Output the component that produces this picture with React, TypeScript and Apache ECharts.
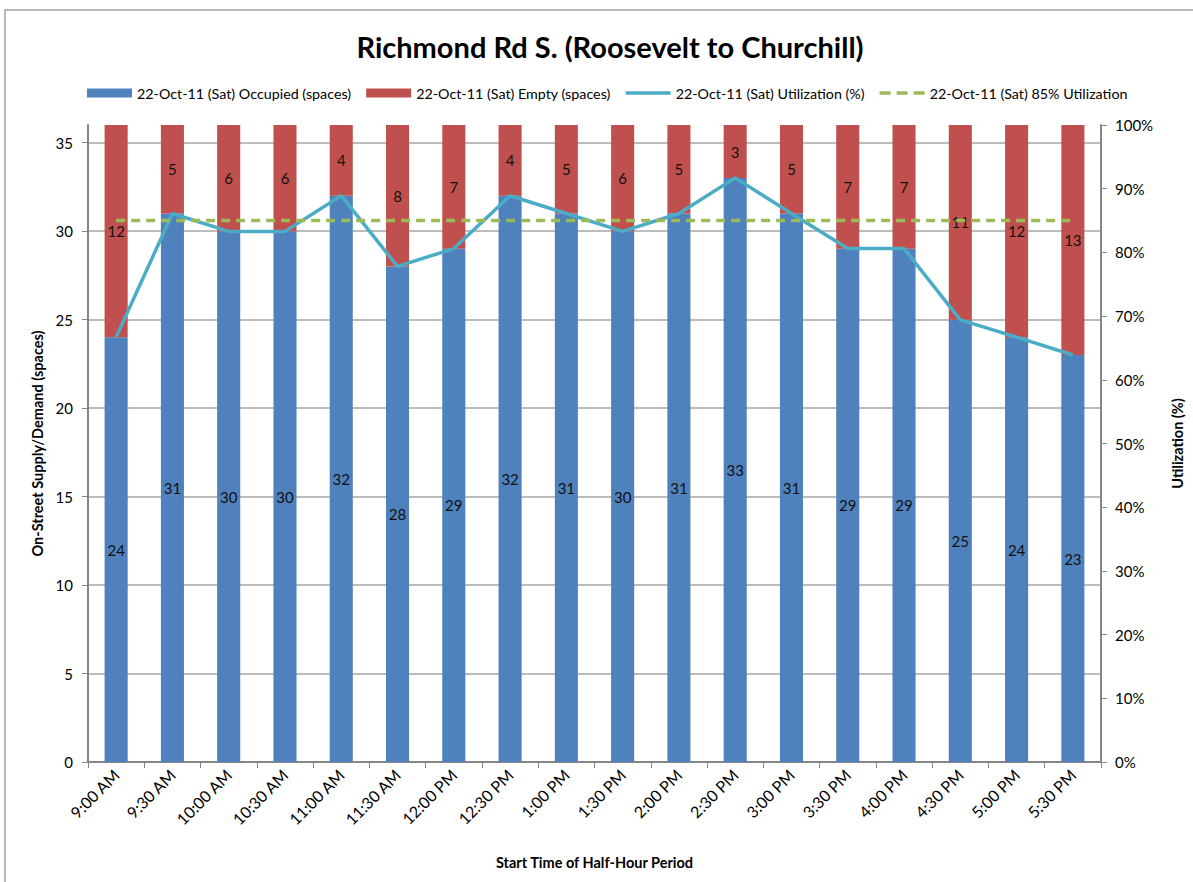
import React, { useEffect, useRef } from "react";
import * as echarts from "echarts";

const categories = [
  "9:00 AM", "9:30 AM", "10:00 AM", "10:30 AM", "11:00 AM", "11:30 AM",
  "12:00 PM", "12:30 PM", "1:00 PM", "1:30 PM", "2:00 PM", "2:30 PM",
  "3:00 PM", "3:30 PM", "4:00 PM", "4:30 PM", "5:00 PM", "5:30 PM",
];
const occupied = [24, 31, 30, 30, 32, 28, 29, 32, 31, 30, 31, 33, 31, 29, 29, 25, 24, 23];
const empty = [12, 5, 6, 6, 4, 8, 7, 4, 5, 6, 5, 3, 5, 7, 7, 11, 12, 13];
const utilization = [0.667, 0.861, 0.833, 0.833, 0.889, 0.778, 0.806, 0.889, 0.861, 0.833, 0.861, 0.917, 0.861, 0.806, 0.806, 0.694, 0.667, 0.639];
const target85 = [0.85, 0.85, 0.85, 0.85, 0.85, 0.85, 0.85, 0.85, 0.85, 0.85, 0.85, 0.85, 0.85, 0.85, 0.85, 0.85, 0.85, 0.85];
const leftTicks = [0, 5, 10, 15, 20, 25, 30, 35];

const seriesNames = [
  "22-Oct-11 (Sat) Occupied (spaces)",
  "22-Oct-11 (Sat) Empty (spaces)",
  "22-Oct-11 (Sat) Utilization (%)",
  "22-Oct-11 (Sat) 85% Utilization",
];

const FONT = "Lato, 'Open Sans', sans-serif";
const SOLID_ICON = "path://M0,0h45v3.5h-45z";
const DASH_ICON = "path://M0,0h11v3.5h-11z M17,0h11v3.5h-11z M34,0h11v3.5h-11z";

export default function App() {
  const ref = useRef<HTMLDivElement>(null);
  useEffect(() => {
    document.body.style.margin = "0";
    const chart = echarts.init(ref.current!, null, { renderer: "svg" });
    const gridColors = leftTicks.map(() => "#a6a6a6").concat(["rgba(0,0,0,0)"]);
    chart.setOption({
      animation: false,
      backgroundColor: "#ffffff",
      textStyle: { fontFamily: FONT },
      graphic: [
        {
          type: "rect",
          shape: { x: 5, y: 10, width: 1300, height: 1000 },
          style: { fill: "none", stroke: "#a0a0a0", lineWidth: 1.5 },
          silent: true,
        },
      ],
      title: {
        text: "Richmond Rd S. (Roosevelt to Churchill)",
        left: 605,
        textAlign: "center",
        top: 27,
        textStyle: { fontFamily: FONT, fontSize: 29, fontWeight: "bold", color: "#000" },
      },
      legend: {
        left: 82,
        top: 81,
        itemWidth: 45,
        itemHeight: 9,
        itemGap: 15,
        textStyle: { fontFamily: FONT, fontSize: 14.3, color: "#000" },
        data: [
          { name: seriesNames[0], icon: "rect" },
          { name: seriesNames[1], icon: "rect" },
          { name: seriesNames[2], icon: SOLID_ICON },
          { name: seriesNames[3], icon: DASH_ICON },
        ],
      },
      grid: { left: 88, right: 91, top: 125, bottom: 120, containLabel: false },
      xAxis: {
        type: "category",
        data: categories,
        boundaryGap: true,
        axisLine: { lineStyle: { color: "#868686", width: 2 } },
        axisTick: { show: true, alignWithLabel: false, length: 6, lineStyle: { color: "#868686" } },
        axisLabel: { rotate: 45, fontSize: 16, color: "#000", fontFamily: FONT, margin: 10, interval: 0 },
        name: "Start Time of Half-Hour Period",
        nameLocation: "middle",
        nameGap: 93,
        nameTextStyle: { fontFamily: FONT, fontSize: 14.5, fontWeight: "bold", color: "#000" },
      },
      yAxis: [
        {
          type: "value",
          min: 0,
          max: 36,
          interval: 5,
          axisLine: { show: true, lineStyle: { color: "#868686", width: 2 } },
          axisTick: { show: true, length: 6, lineStyle: { color: "#868686" } },
          axisLabel: { fontSize: 15, color: "#000", fontFamily: FONT, margin: 15, showMaxLabel: false },
          splitLine: { show: true, lineStyle: { color: gridColors, width: 1.5 } },
          name: "On-Street Supply/Demand (spaces)",
          nameLocation: "middle",
          nameRotate: 90,
          nameGap: 41,
          nameTextStyle: { fontFamily: FONT, fontSize: 14.5, fontWeight: "bold", color: "#000" },
        },
        {
          type: "value",
          min: 0,
          max: 1,
          interval: 0.1,
          position: "right",
          axisLine: { show: true, lineStyle: { color: "#868686", width: 2 } },
          axisTick: { show: true, length: 6, lineStyle: { color: "#868686" } },
          axisLabel: {
            fontSize: 15,
            color: "#000",
            fontFamily: FONT,
            margin: 14,
            formatter: (v: number) => Math.round(v * 100) + "%",
          },
          splitLine: { show: false },
          name: "Utilization (%)",
          nameLocation: "middle",
          nameRotate: 90,
          nameGap: 69,
          nameTextStyle: { fontFamily: FONT, fontSize: 14.5, fontWeight: "bold", color: "#000" },
        },
      ],
      series: [
        {
          name: seriesNames[0],
          type: "bar",
          stack: "s",
          data: occupied,
          barWidth: "41%",
          itemStyle: { color: "#4F81BD" },
          label: { show: true, position: "inside", color: "#111", fontSize: 15, fontFamily: FONT },
          z: 2,
        },
        {
          name: seriesNames[1],
          type: "bar",
          stack: "s",
          data: empty,
          barWidth: "41%",
          itemStyle: { color: "#C0504D" },
          label: { show: true, position: "inside", color: "#111", fontSize: 15, fontFamily: FONT },
          z: 2,
        },
        {
          name: seriesNames[2],
          type: "line",
          yAxisIndex: 1,
          data: utilization,
          symbol: "none",
          lineStyle: { color: "#4BACC6", width: 3.5 },
          itemStyle: { color: "#4BACC6" },
          z: 4,
        },
        {
          name: seriesNames[3],
          type: "line",
          yAxisIndex: 1,
          data: target85,
          symbol: "none",
          lineStyle: { color: "#9BBB59", width: 3.5, type: [9, 6] },
          itemStyle: { color: "#9BBB59" },
          z: 5,
        },
      ],
    });
    return () => chart.dispose();
  }, []);
  return <div ref={ref} style={{ width: 1193, height: 882 }} />;
}
